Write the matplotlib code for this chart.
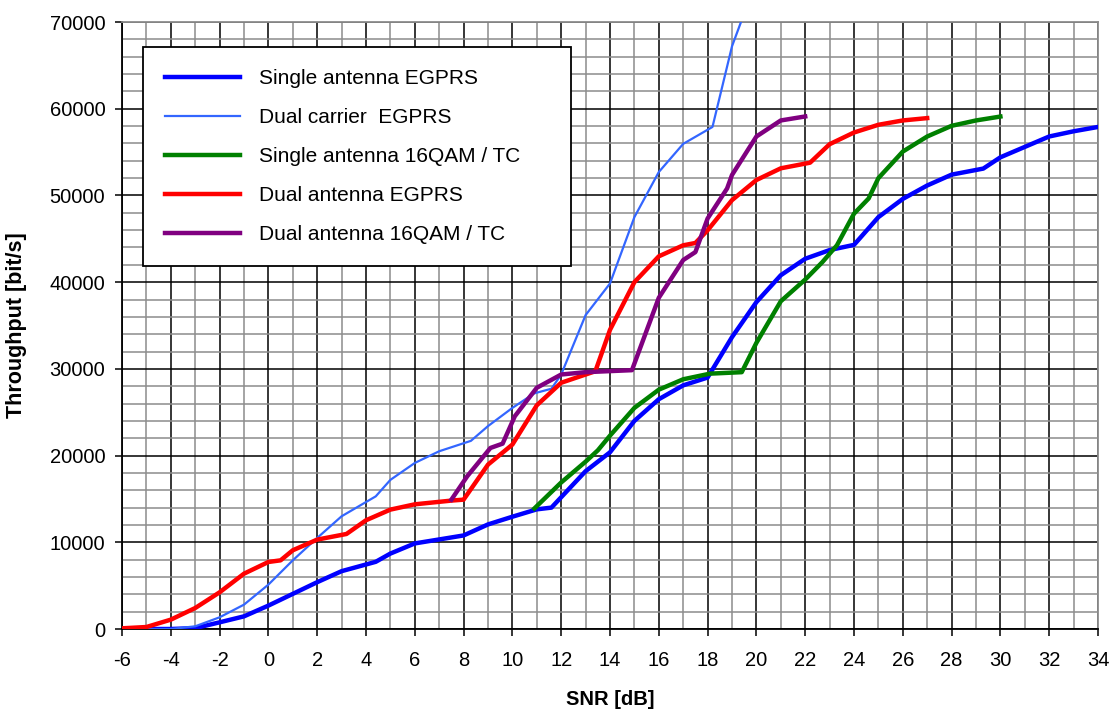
import matplotlib
matplotlib.use("Agg")
import matplotlib.pyplot as plt
from matplotlib.ticker import MultipleLocator

plt.rcParams['font.family'] = ['Liberation Sans', 'DejaVu Sans']
plt.rcParams['axes.unicode_minus'] = False

# Data (SNR in dB, throughput in bit/s)
snr_single = [-6, -5, -4, -3, -2, -1, 0, 1, 2, 3, 4.4, 5, 6, 7, 8, 9, 10, 11, 11.6,
              13, 14, 15, 16, 17, 18, 19, 20, 21, 22, 23, 24, 25, 26, 27, 28, 29.3,
              30, 31, 32, 33, 34]
thr_single = [0, 0, 0, 100, 770, 1460, 2700, 4050, 5400, 6670, 7750, 8700, 9870,
              10330, 10790, 12060, 12950, 13800, 14000, 18200, 20380, 24000, 26500,
              28100, 29000, 33660, 37700, 40800, 42700, 43700, 44300, 47500, 49600,
              51150, 52400, 53100, 54400, 55600, 56800, 57400, 57900]

snr_dualcar = [-6, -5, -4, -3, -2, -1, 0, 1, 2, 3, 4.4, 5, 6, 7, 8.3, 9, 10, 10.9,
               11.6, 12, 13, 14, 15, 16, 17, 18.2, 19, 19.5]
thr_dualcar = [0, 0, 0, 310, 1350, 2810, 5120, 7920, 10500, 13000, 15300, 17200,
               19150, 20500, 21700, 23400, 25500, 27180, 27710, 29350, 36200, 39850,
               47500, 52700, 55950, 57900, 67200, 71000]

snr_single16 = [10.9, 12, 13, 13.5, 14, 15, 16, 17, 18.1, 19.4, 20, 21, 22, 22.7,
                23.3, 24, 24.6, 25, 26, 27, 28, 29, 30]
thr_single16 = [13900, 16900, 19300, 20600, 22300, 25500, 27600, 28800, 29450,
                29620, 33000, 37800, 40300, 42300, 44250, 47900, 49650, 52000,
                55060, 56800, 58030, 58650, 59100]

snr_dualant = [-6, -5, -4, -3, -2, -1, 0, 0.5, 1, 2, 3.2, 4, 5, 6, 7.5, 8, 9, 10,
               11, 12, 13, 13.4, 14, 15, 16, 17, 17.5, 18, 19, 20, 21, 22.2, 23, 24,
               25, 26, 27]
thr_dualant = [80, 230, 1080, 2420, 4230, 6380, 7730, 7920, 9080, 10310, 10960,
               12540, 13770, 14380, 14810, 14920, 18960, 21270, 25800, 28400, 29350,
               29730, 34500, 40000, 42980, 44250, 44520, 45980, 49460, 51780, 53130,
               53780, 55910, 57260, 58150, 58650, 58920]

snr_dual16 = [7.5, 8.15, 9.1, 9.6, 10.1, 11, 12, 13, 14.9, 16, 17, 17.5, 18, 18.8,
              19, 20, 21, 22]
thr_dual16 = [14920, 17620, 20880, 21380, 24540, 27820, 29350, 29620, 29850, 38200,
              42550, 43470, 47340, 50810, 52360, 56800, 58650, 59110]

fig = plt.figure(figsize=(11.11, 7.13), dpi=100)
ax = fig.add_axes([0.1098, 0.1178, 0.8785, 0.8513])

ax.plot(snr_single, thr_single, color='#0000FF', lw=3.2, label='Single antenna EGPRS', zorder=3)
ax.plot(snr_dualcar, thr_dualcar, color='#3366FF', lw=1.6, label='Dual carrier  EGPRS', zorder=3)
ax.plot(snr_single16, thr_single16, color='#008000', lw=3.2, label='Single antenna 16QAM / TC', zorder=3)
ax.plot(snr_dualant, thr_dualant, color='#FF0000', lw=3.2, label='Dual antenna EGPRS', zorder=3)
ax.plot(snr_dual16, thr_dual16, color='#800080', lw=3.2, label='Dual antenna 16QAM / TC', zorder=3)

ax.set_xlim(-6, 34)
ax.set_ylim(0, 70000)
ax.xaxis.set_major_locator(MultipleLocator(2))
ax.xaxis.set_minor_locator(MultipleLocator(1))
ax.yaxis.set_major_locator(MultipleLocator(10000))
ax.yaxis.set_minor_locator(MultipleLocator(2000))

ax.grid(which='minor', color='#8c8c8c', lw=1.1, zorder=1)
ax.grid(which='major', color='black', lw=1.1, zorder=2)
ax.set_axisbelow(True)

ax.tick_params(which='major', direction='out', length=5, width=1.1, labelsize=14.5, color='black')
ax.tick_params(axis='x', pad=11)
ax.tick_params(axis='y', pad=7)
ax.tick_params(which='minor', length=0)

for side in ['left', 'bottom']:
    ax.spines[side].set_color('black')
    ax.spines[side].set_linewidth(1.3)
for side in ['top', 'right']:
    ax.spines[side].set_color('#8c8c8c')
    ax.spines[side].set_linewidth(1.3)

ax.set_xlabel('SNR [dB]', fontsize=14.5, fontweight='bold', labelpad=14)
ax.set_ylabel('Throughput [bit/s]', fontsize=15.5, fontweight='bold', labelpad=16)

leg = ax.legend(loc='upper left', bbox_to_anchor=(143 / 1111, 1 - 276 / 713, 428 / 1111, 229 / 713),
                bbox_transform=fig.transFigure, mode='expand', fontsize=15,
                frameon=True, fancybox=False, shadow=False, borderpad=1.05,
                labelspacing=0.96, handlelength=3.6, handletextpad=0.9,
                borderaxespad=0)
leg.get_frame().set_edgecolor('black')
leg.get_frame().set_linewidth(1.3)
leg.get_frame().set_alpha(1)
leg.set_zorder(5)

fig.savefig('out.png', dpi=100)
